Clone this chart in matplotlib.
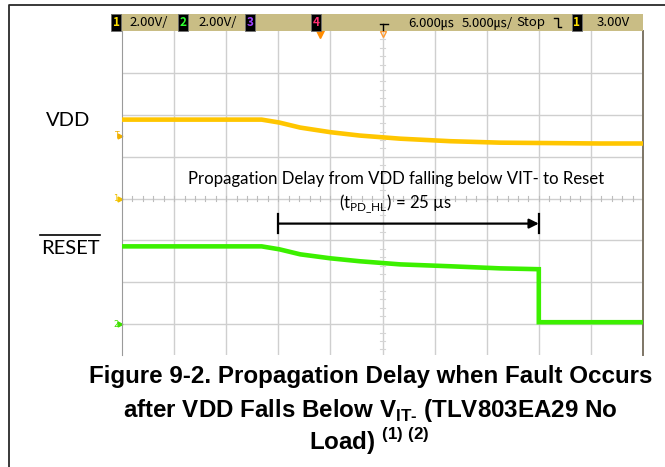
import matplotlib.pyplot as plt
from matplotlib.patches import Rectangle
from matplotlib.lines import Line2D

plt.rcParams['mathtext.fontset'] = 'custom'
plt.rcParams['mathtext.rm'] = 'Lato'
plt.rcParams['mathtext.bf'] = 'Liberation Sans:bold'

# scope settings
volts_per_div = 2.0
us_per_div = 5.0
delay_us = 6.0
trig_level = 3.00
ch2_offset_div = -3.0

# VDD (channel 1), time in us, level in V
vdd_t = [-19.0, -5.6, -3.9, -1.9, 1.0, 3.8, 7.7, 12.5, 17.3, 22.1, 26.9, 31.0]
vdd_v = [3.77, 3.77, 3.63, 3.39, 3.17, 3.01, 2.86, 2.74, 2.67, 2.65, 2.63, 2.63]

# RESET (channel 2)
reset_t = [-19.0, -5.6, -3.9, -1.9, 1.0, 3.8, 7.7, 12.5, 17.3, 21.0, 21.0, 31.0]
reset_v = [3.72, 3.72, 3.58, 3.34, 3.15, 3.01, 2.86, 2.77, 2.67, 2.63, 0.10, 0.10]

# propagation delay marker
t_pd_start = -4.0
t_pd_hl = 25.0

W, H = 665, 467
fig = plt.figure(figsize=(W / 100, H / 100), dpi=100)


def fx(px):
    return px / W


def fy(py):
    return 1 - py / H


# outer frame (top and left edges only)
fig.add_artist(Line2D([fx(9), fx(9), 1], [0, fy(5), fy(5)], color='#2a2a2a', lw=1.3))

ax = fig.add_axes([fx(122), fy(355), fx(643) - fx(122), fy(31) - fy(355)])
x0 = delay_us - 5 * us_per_div
x1 = delay_us + 5 * us_per_div
ax.set_xlim(x0, x1)
ax.set_ylim(4 - (355 - 31) / 41.9, 4)

# graticule
for k in range(1, 10):
    ax.axvline(x0 + k * us_per_div, color='#cfcfcf', lw=1, zorder=0)
for k in range(-3, 4):
    ax.axhline(k, color='#cfcfcf', lw=1, zorder=0)
t = x0
while t <= x1:
    ax.plot([t, t], [-0.06, 0.06], color='#bdbdbd', lw=0.8, zorder=0)
    t += us_per_div / 5
y = -4.0
while y <= 4:
    ax.plot([delay_us - 0.25, delay_us + 0.25], [y, y], color='#d5d5d5', lw=0.8, zorder=0)
    y += 0.2
ax.set_xticks([])
ax.set_yticks([])
ax.spines['top'].set_visible(False)
ax.spines['bottom'].set_visible(False)
ax.spines['left'].set_color('#9a9a9a')
ax.spines['right'].set_color('#7d7565')
ax.spines['right'].set_linewidth(1.4)

# traces
ax.plot(vdd_t, [v / volts_per_div for v in vdd_v], color='#ffc600', lw=3.3,
        solid_joinstyle='round', zorder=3)
ax.plot(reset_t, [v / volts_per_div + ch2_offset_div for v in reset_v],
        color='#3cf000', lw=3.3, solid_joinstyle='miter', zorder=3)

# channel / trigger markers on the left edge
ax.text(x0 - 0.25, trig_level / volts_per_div, 'T', color='#f0b000', fontsize=5.5,
        ha='right', va='center', clip_on=False)
ax.plot(x0 - 0.15, trig_level / volts_per_div, marker='>', color='#f0b000', ms=3.5, clip_on=False)
ax.text(x0 - 0.35, 0, '1', color='#f0c000', fontsize=6, ha='right', va='center', clip_on=False)
ax.plot(x0 - 0.15, 0, marker='>', color='#f0c000', ms=3.5, clip_on=False)
ax.text(x0 - 0.35, ch2_offset_div, '2', color='#40e000', fontsize=6, ha='right', va='center',
        clip_on=False)
ax.plot(x0 - 0.15, ch2_offset_div, marker='>', color='#40e000', ms=3.5, clip_on=False)

# trigger position and delay markers under the header
ax.plot(0, 3.93, marker='v', color='#ff8c00', ms=6, clip_on=False, zorder=5)
ax.plot(delay_us, 3.93, marker='v', mfc='none', mec='#ff9a30', ms=5, clip_on=False, zorder=5)

# propagation delay arrow
t_pd_end = t_pd_start + t_pd_hl
y_arr = (198 - 223) / 41.9
ax.annotate('', xy=(t_pd_end, y_arr), xytext=(t_pd_start, y_arr),
            arrowprops=dict(arrowstyle='-|>', color='black', lw=1.6, shrinkA=0, shrinkB=0,
                            mutation_scale=14))
for tt in (t_pd_start, t_pd_end):
    ax.plot([tt, tt], [y_arr - 0.22, y_arr + 0.22], color='black', lw=1.6)

ax.text((t_pd_start + t_pd_end) / 2 - 1.2, (198 - 178) / 41.9,
        'Propagation Delay from VDD falling below VIT- to Reset',
        family='Lato', fontsize=12.1, ha='center', va='center')
ax.text((t_pd_start + t_pd_end) / 2 - 1.2, (198 - 203) / 41.9,
        r'(t$_{\mathrm{PD\_HL}}$) = %g µs' % t_pd_hl,
        family='Lato', fontsize=12.1, ha='center', va='center')

# header bar
fig.add_artist(Rectangle((fx(111), fy(31)), fx(643) - fx(111), fy(14) - fy(31),
                         facecolor='#c9bd85', edgecolor='none'))
hdr_font = ['Liberation Sans Narrow', 'Noto Sans CJK JP', 'DejaVu Sans']
hy = fy(22.5)


def chan_box(px, label, color):
    fig.text(fx(px), hy, label, color=color, fontsize=8.5, family=hdr_font,
             ha='center', va='center', fontweight='bold',
             bbox=dict(boxstyle='square,pad=0.15', fc='black', ec='#707070', lw=0.6))


chan_box(116, '1', '#ffe000')
chan_box(183, '2', '#30ff30')
chan_box(250, '3', '#a040ff')
chan_box(316, '4', '#ff3070')
chan_box(577, '1', '#ffe000')

hdr_text = ['2.00V/', '2.00V/', '6.000㎲', '5.000㎲/', 'Stop', '3.00V']
hdr_x = [149, 218, 431, 487, 531, 613]
for px, s in zip(hdr_x, hdr_text):
    fig.text(fx(px), hy, s, fontsize=9.5, family=hdr_font, ha='center', va='center')

# trigger edge icons
fig.add_artist(Line2D([fx(380), fx(388)], [fy(24), fy(24)], color='black', lw=1))
fig.add_artist(Line2D([fx(383), fx(383)], [fy(24), fy(30)], color='black', lw=1))
fig.add_artist(Line2D([fx(554), fx(558), fx(558), fx(561)], [fy(18), fy(18), fy(27), fy(27)],
                      color='black', lw=1))

# channel names
fig.text(fx(68), fy(121), 'VDD', family='Lato', fontsize=14.5, ha='center', va='center')
fig.text(fx(70), fy(248), 'RESET', family='Lato', fontsize=14.5, ha='center', va='center')
fig.add_artist(Line2D([fx(40), fx(100)], [fy(235), fy(235)], color='black', lw=1.2))

# caption
cap = dict(family='Liberation Sans', fontweight='bold', fontsize=17.4, ha='center',
           va='center')
fig.text(fx(371), fy(377), 'Figure 9-2. Propagation Delay when Fault Occurs', **cap)
fig.text(fx(370), fy(410), r'after VDD Falls Below V$_{\mathbf{IT‐}}$ (TLV803EA29 No', **cap)
fig.text(fx(369), fy(441), r'Load) $^{\mathbf{(1)\ (2)}}$', **cap)

fig.savefig('out.png', dpi=100)
